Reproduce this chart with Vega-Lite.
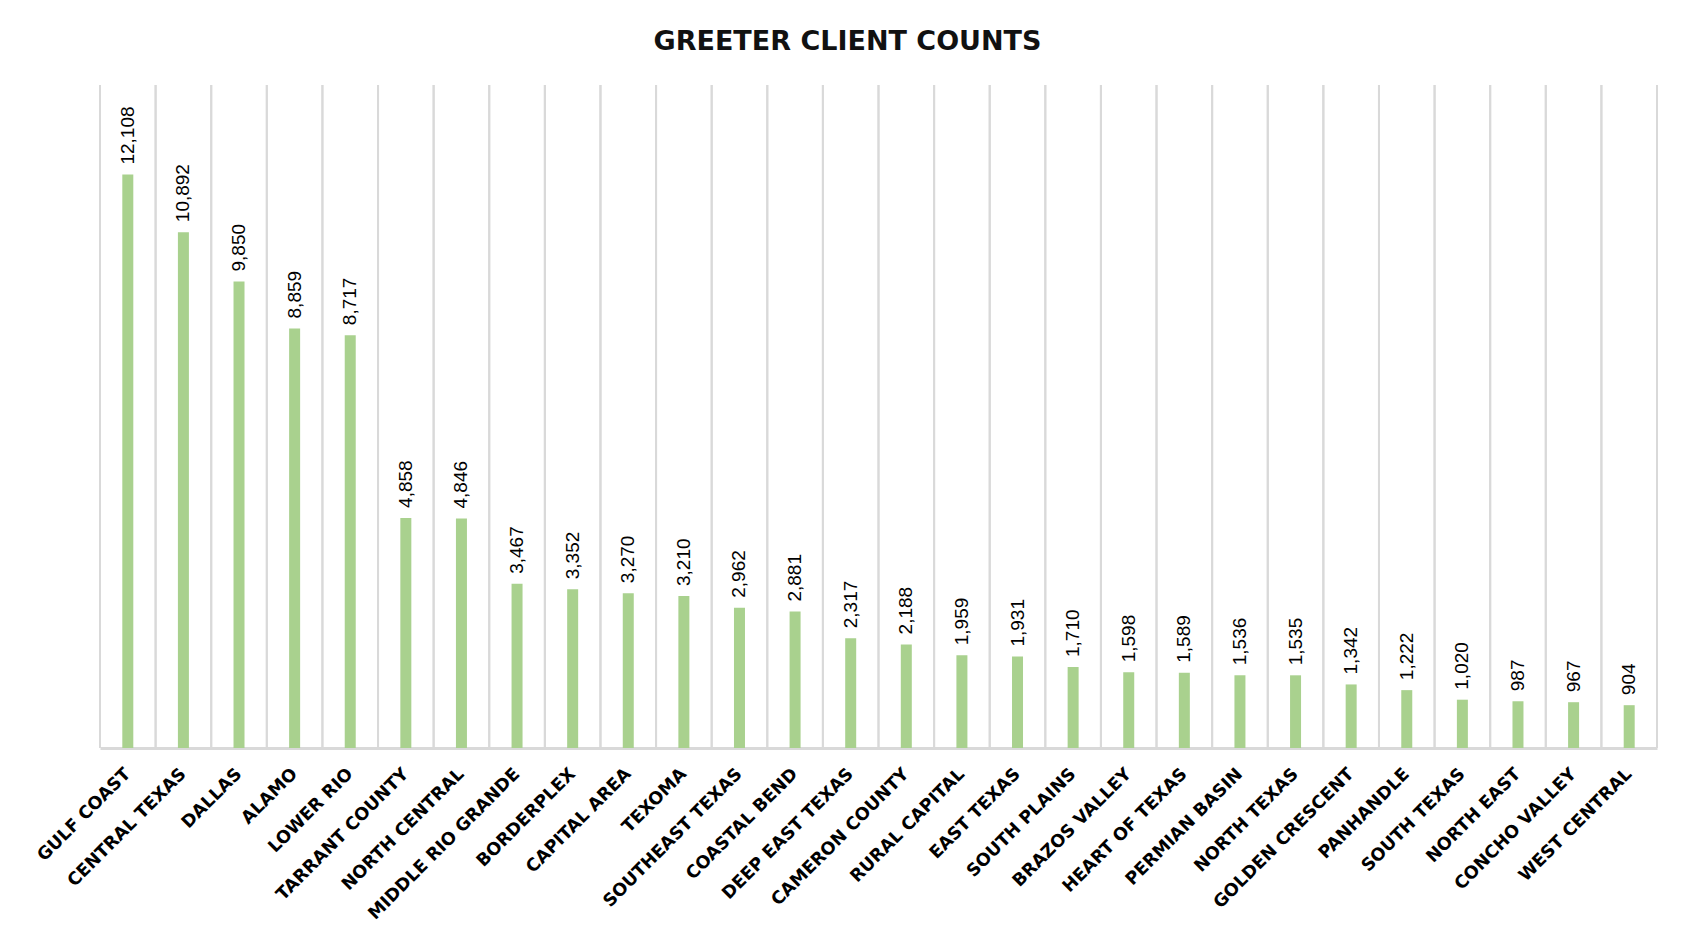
{
  "$schema": "https://vega.github.io/schema/vega-lite/v6.json",
  "width": 1557,
  "height": 663,
  "autosize": {"type": "none"},
  "padding": {"left": 100, "top": 85, "right": 31, "bottom": 198},
  "background": "#ffffff",
  "config": {"view": {"stroke": null}},
  "title": {
    "text": "GREETER CLIENT COUNTS",
    "anchor": "middle",
    "dx": -31,
    "offset": 28,
    "font": "DejaVu Sans",
    "fontSize": 27,
    "fontWeight": 600,
    "color": "#111111"
  },
  "data": {
    "values": [
      {"region": "GULF COAST", "count": 12108},
      {"region": "CENTRAL TEXAS", "count": 10892},
      {"region": "DALLAS", "count": 9850},
      {"region": "ALAMO", "count": 8859},
      {"region": "LOWER RIO", "count": 8717},
      {"region": "TARRANT COUNTY", "count": 4858},
      {"region": "NORTH CENTRAL", "count": 4846},
      {"region": "MIDDLE RIO GRANDE", "count": 3467},
      {"region": "BORDERPLEX", "count": 3352},
      {"region": "CAPITAL AREA", "count": 3270},
      {"region": "TEXOMA", "count": 3210},
      {"region": "SOUTHEAST TEXAS", "count": 2962},
      {"region": "COASTAL BEND", "count": 2881},
      {"region": "DEEP EAST TEXAS", "count": 2317},
      {"region": "CAMERON COUNTY", "count": 2188},
      {"region": "RURAL CAPITAL", "count": 1959},
      {"region": "EAST TEXAS", "count": 1931},
      {"region": "SOUTH PLAINS", "count": 1710},
      {"region": "BRAZOS VALLEY", "count": 1598},
      {"region": "HEART OF TEXAS", "count": 1589},
      {"region": "PERMIAN BASIN", "count": 1536},
      {"region": "NORTH TEXAS", "count": 1535},
      {"region": "GOLDEN CRESCENT", "count": 1342},
      {"region": "PANHANDLE", "count": 1222},
      {"region": "SOUTH TEXAS", "count": 1020},
      {"region": "NORTH EAST", "count": 987},
      {"region": "CONCHO VALLEY", "count": 967},
      {"region": "WEST CENTRAL", "count": 904}
    ]
  },
  "encoding": {
    "x": {
      "field": "region",
      "type": "nominal",
      "sort": null,
      "scale": {"paddingInner": 0, "paddingOuter": 0},
      "axis": {
        "title": null,
        "labelAngle": -45,
        "labelAlign": "right",
        "labelBaseline": "middle",
        "labelFont": "DejaVu Sans",
        "labelFontWeight": "bold",
        "labelFontSize": 17.5,
        "labelColor": "#000000",
        "labelPadding": 23,
        "labelLimit": 0,
        "ticks": false,
        "grid": false,
        "domain": true,
        "domainColor": "#d9d9d9",
        "domainWidth": 3,
        "labelOverlap": false
      }
    }
  },
  "layer": [
    {
      "mark": {"type": "rule", "color": "#d9d9d9", "strokeWidth": 2},
      "encoding": {"x": {"field": "region", "type": "nominal", "sort": null, "bandPosition": 0}}
    },
    {
      "mark": {"type": "rule", "color": "#d9d9d9", "strokeWidth": 2},
      "encoding": {"x": {"field": "region", "type": "nominal", "sort": null, "bandPosition": 1}}
    },
    {
      "mark": {"type": "bar", "color": "#a9d18e", "width": 11},
      "encoding": {
        "y": {
          "field": "count",
          "type": "quantitative",
          "scale": {"domain": [0, 14000], "nice": false},
          "axis": null
        }
      }
    },
    {
      "mark": {
        "type": "text",
        "angle": 270,
        "align": "left",
        "baseline": "middle",
        "dx": 10,
        "font": "Liberation Sans",
        "fontSize": 19,
        "color": "#000000"
      },
      "encoding": {
        "y": {"field": "count", "type": "quantitative"},
        "text": {"field": "count", "type": "quantitative", "format": ","}
      }
    }
  ]
}
